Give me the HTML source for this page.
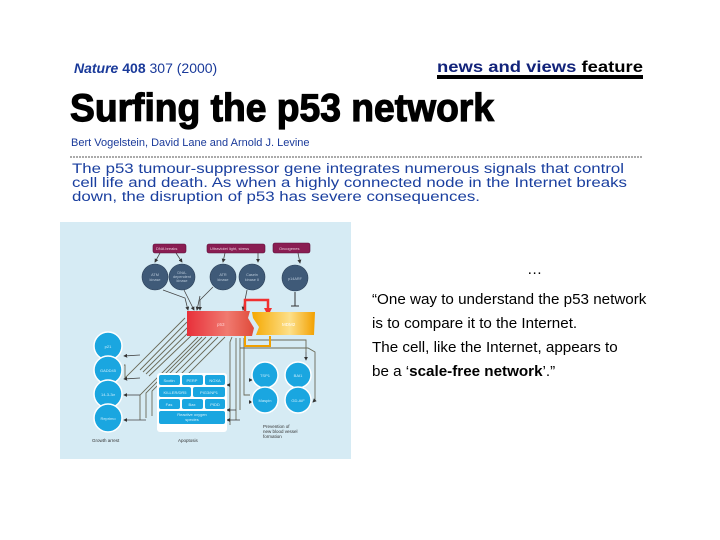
<!DOCTYPE html>
<html><head><meta charset="utf-8"><style>
html,body{margin:0;padding:0;background:#fff;width:720px;height:540px;overflow:hidden}
svg{display:block}
</style></head><body>
<svg width="720" height="540" viewBox="0 0 720 540" xmlns="http://www.w3.org/2000/svg" font-family="Liberation Sans, Arial, sans-serif">
<defs>
<linearGradient id="red" x1="0" x2="1"><stop offset="0" stop-color="#e8303a"/><stop offset="0.6" stop-color="#f07a70"/><stop offset="1" stop-color="#e04a3a"/></linearGradient>
<linearGradient id="org" x1="0" x2="1"><stop offset="0" stop-color="#f5a800"/><stop offset="0.6" stop-color="#fde08a"/><stop offset="1" stop-color="#f2a000"/></linearGradient>
<marker id="ah" markerWidth="5" markerHeight="5" refX="4" refY="2.5" orient="auto"><path d="M0,0 L5,2.5 L0,5z" fill="#333"/></marker>
</defs>
<text x="74" y="73" font-size="14" fill="#1a3a9a"><tspan font-style="italic" font-weight="bold">Nature</tspan><tspan font-weight="bold"> 408</tspan> 307 (2000)</text>
<text x="437" y="72" font-size="16" font-weight="bold" fill="#12237a" textLength="206" lengthAdjust="spacingAndGlyphs">news and views <tspan fill="#000">feature</tspan></text>
<rect x="437" y="75" width="206" height="4" fill="#000"/>
<text x="70" y="121" font-size="39" font-weight="bold" fill="#000" textLength="424" lengthAdjust="spacingAndGlyphs" stroke="#000" stroke-width="1.2">Surfing the p53 network</text>
<text x="71" y="146" font-size="11" fill="#1a3a9a">Bert Vogelstein, David Lane and Arnold J. Levine</text>
<line x1="70" y1="157" x2="643" y2="157" stroke="#555" stroke-width="1" stroke-dasharray="2,1"/>
<g font-size="13.5" fill="#1a3f9f">
<text x="72" y="173" textLength="552" lengthAdjust="spacingAndGlyphs">The p53 tumour-suppressor gene integrates numerous signals that control</text>
<text x="72" y="187" textLength="555" lengthAdjust="spacingAndGlyphs">cell life and death. As when a highly connected node in the Internet breaks</text>
<text x="72" y="201" textLength="408" lengthAdjust="spacingAndGlyphs">down, the disruption of p53 has severe consequences.</text>
</g>
<rect x="60" y="222" width="291" height="237" fill="#d6ebf4"/>
<g stroke="#444" stroke-width="0.8" fill="none" marker-end="url(#ah)">
<path d="M160,253 L155,262"/><path d="M176,253 L182,262"/>
<path d="M225,253 L223,262"/><path d="M258,253 L258,262"/>
<path d="M298,253 L300,263"/>
<path d="M163,290 L185,298 L188,310"/><path d="M184,290 L194,310"/><path d="M200,296 L197,310"/>
<path d="M213,287 L200,300 L200,310"/><path d="M247,290 L243,310"/>
</g>
<line x1="295" y1="292" x2="295" y2="306" stroke="#333" stroke-width="1"/><line x1="291" y1="306" x2="299" y2="306" stroke="#333" stroke-width="1"/>
<g stroke="#6a6a58" stroke-width="0.9" fill="none">
<path d="M185,318 L125,378 L125,365 L124,365"/>
<path d="M187,322 L140,370"/><path d="M189,326 L143,372"/><path d="M191,330 L146,374"/><path d="M193,334 L149,376"/>
<path d="M198,337 L140,395 L140,420"/><path d="M202,337 L146,393 L146,418"/><path d="M206,337 L152,391 L152,416"/>
<path d="M212,337 L163,386 L163,410"/><path d="M218,337 L170,385"/><path d="M225,337 L176,386"/>
<path d="M232,337 L230,342 L230,425"/><path d="M236,338 L236,420"/><path d="M240,338 L240,410"/><path d="M244,338 L244,395 L250,395"/>
<path d="M248,340 L306,340 L306,352"/><path d="M240,348 L308,348 L315,352 L315,400"/>
</g>
<g stroke="#444" stroke-width="0.8" fill="none" marker-end="url(#ah)">
<path d="M140,355 L124,356"/><path d="M140,378 L124,379"/><path d="M140,395 L124,395"/><path d="M146,420 L124,420"/>
<path d="M165,376 L165,374"/><path d="M230,385 L227,385"/><path d="M236,410 L227,410"/><path d="M240,420 L227,420"/>
<path d="M250,380 L252,380"/><path d="M250,402 L252,402"/><path d="M306,352 L306,360"/><path d="M315,400 L313,402"/>
</g>
<path d="M245,325 L245,300 L268,300 L268,312" stroke="#f03030" stroke-width="2.5" fill="none"/>
<path d="M264,308 L268,316 L272,308z" fill="#f03030"/>
<path d="M245,336 L245,346 L270,346 L270,336" stroke="#f0a000" stroke-width="2" fill="none"/>
<g fill="#8a1d52" stroke="#5a1038" stroke-width="0.6">
<rect x="153" y="244" width="33" height="9" rx="2"/><rect x="207" y="244" width="58" height="9" rx="2"/><rect x="273" y="243" width="37" height="10" rx="2"/>
</g>
<g font-size="4" fill="#e8c8d8"><text x="156" y="250">DNA breaks</text><text x="210" y="250">Ultraviolet light, stress</text><text x="279" y="250">Oncogenes</text></g>
<g fill="#3f5a78" stroke="#2a3e56" stroke-width="0.6">
<circle cx="155" cy="277" r="13"/><circle cx="182" cy="277" r="13"/><circle cx="223" cy="277" r="13"/><circle cx="252" cy="277" r="13"/><circle cx="295" cy="278" r="13"/>
</g>
<g font-size="3.8" fill="#b8c8d8" text-anchor="middle"><text x="155" y="276">ATM</text><text x="155" y="281">kinase</text><text x="182" y="274">DNA-</text><text x="182" y="278">dependent</text><text x="182" y="282">kinase</text><text x="223" y="276">ATR</text><text x="223" y="281">kinase</text><text x="252" y="276">Casein</text><text x="252" y="281">kinase II</text><text x="295" y="280">p14ARF</text></g>
<path d="M187,311 L250,311 L248,318 L254,328 L252,336 L187,336z" fill="url(#red)"/>
<path d="M252,312 L315,312 L314,335 L256,335 L259,327 L253,318z" fill="url(#org)"/>
<text x="217" y="326" font-size="4.5" fill="#fcc">p53</text><text x="282" y="326" font-size="4.5" fill="#fff">MDM2</text>
<g fill="#1aa6e0" stroke="#fff" stroke-width="1.5">
<circle cx="108" cy="346" r="14"/><circle cx="108" cy="370" r="14"/><circle cx="108" cy="394" r="14"/><circle cx="108" cy="418" r="14"/>
</g>
<g font-size="4" fill="#cdeefc" text-anchor="middle"><text x="108" y="348">p21</text><text x="108" y="372">GADD45</text><text x="108" y="396">14-3-3σ</text><text x="108" y="420">Reprimo</text></g>
<rect x="157" y="373" width="70" height="59" rx="3" fill="#fff"/>
<g fill="#1aa6e0">
<rect x="159" y="375" width="21" height="10" rx="2"/><rect x="182" y="375" width="21" height="10" rx="2"/><rect x="205" y="375" width="20" height="10" rx="2"/>
<rect x="159" y="387" width="32" height="10" rx="2"/><rect x="193" y="387" width="32" height="10" rx="2"/>
<rect x="159" y="399" width="21" height="10" rx="2"/><rect x="182" y="399" width="21" height="10" rx="2"/><rect x="205" y="399" width="20" height="10" rx="2"/>
<rect x="159" y="411" width="66" height="13" rx="2"/>
</g>
<g font-size="4" fill="#d8f2fc" text-anchor="middle"><text x="169" y="382">Scotin</text><text x="192" y="382">PERP</text><text x="215" y="382">NOXA</text><text x="175" y="394">KILLER/DR5</text><text x="209" y="394">PIG3/NP1</text><text x="169" y="406">Fas</text><text x="192" y="406">Bax</text><text x="215" y="406">PIDD</text><text x="192" y="416">Reactive oxygen</text><text x="192" y="421">species</text></g>
<g fill="#1aa6e0" stroke="#fff" stroke-width="1.5">
<circle cx="265" cy="375" r="13"/><circle cx="298" cy="375" r="13"/><circle cx="265" cy="400" r="13"/><circle cx="298" cy="400" r="13"/>
</g>
<g font-size="4" fill="#cdeefc" text-anchor="middle"><text x="265" y="377">TSP1</text><text x="298" y="377">BAI1</text><text x="265" y="402">Maspin</text><text x="298" y="402">GD-AiF</text></g>
<g font-size="4.5" fill="#333"><text x="92" y="442">Growth arrest</text><text x="178" y="442">Apoptosis</text><text x="263" y="428">Prevention of</text><text x="263" y="433">new blood vessel</text><text x="263" y="438">formation</text></g>
<g font-size="15.2" fill="#000">
<text x="527" y="274">…</text>
<text x="372" y="304">“One way to understand the p53 network</text>
<text x="372" y="328">is to compare it to the Internet.</text>
<text x="372" y="352">The cell, like the Internet, appears to</text>
<text x="372" y="376">be a ‘<tspan font-weight="bold">scale-free network</tspan>’.”</text>
</g>
</svg>
</body></html>
